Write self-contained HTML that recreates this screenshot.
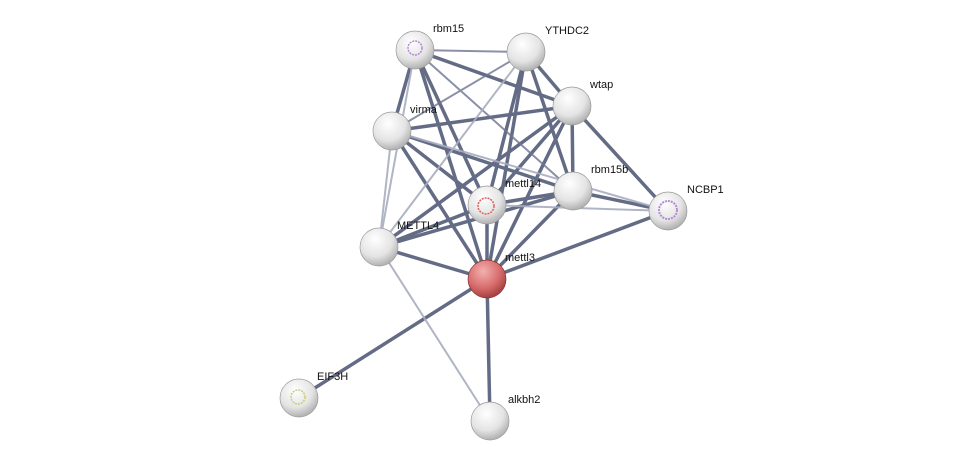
<!DOCTYPE html>
<html><head><style>body{margin:0;background:#fff}svg text{font-family:"Liberation Sans",sans-serif;font-size:11px;fill:#111}</style></head>
<body>
<svg width="975" height="467" viewBox="0 0 975 467">
<defs>
<radialGradient id="g" cx="0.4" cy="0.3" r="0.75"><stop offset="0" stop-color="#ffffff"/><stop offset="0.6" stop-color="#e4e4e4"/><stop offset="1" stop-color="#a8a8a8"/></radialGradient>
<radialGradient id="r" cx="0.4" cy="0.3" r="0.75"><stop offset="0" stop-color="#f4b0b0"/><stop offset="0.6" stop-color="#d66a6a"/><stop offset="1" stop-color="#9a3838"/></radialGradient>
</defs>
<g stroke-linecap="round">
<g stroke="#545c78" stroke-width="3.5" opacity="0.9">
<line x1="487" y1="279" x2="415" y2="50"/><line x1="487" y1="279" x2="526" y2="52"/><line x1="487" y1="279" x2="572" y2="106"/>
<line x1="487" y1="279" x2="392" y2="131"/><line x1="487" y1="279" x2="573" y2="191"/><line x1="487" y1="279" x2="668" y2="211"/>
<line x1="487" y1="279" x2="487" y2="205"/><line x1="487" y1="279" x2="379" y2="247"/><line x1="487" y1="279" x2="299" y2="398"/>
<line x1="487" y1="279" x2="490" y2="421"/>
<line x1="487" y1="205" x2="415" y2="50"/><line x1="487" y1="205" x2="526" y2="52"/><line x1="487" y1="205" x2="572" y2="106"/>
<line x1="487" y1="205" x2="392" y2="131"/><line x1="487" y1="205" x2="573" y2="191"/><line x1="487" y1="205" x2="379" y2="247"/>
<line x1="415" y1="50" x2="572" y2="106"/><line x1="415" y1="50" x2="392" y2="131"/><line x1="526" y1="52" x2="572" y2="106"/>
<line x1="526" y1="52" x2="573" y2="191"/><line x1="572" y1="106" x2="392" y2="131"/><line x1="572" y1="106" x2="573" y2="191"/>
<line x1="572" y1="106" x2="668" y2="211"/><line x1="572" y1="106" x2="379" y2="247"/><line x1="573" y1="191" x2="668" y2="211"/>
<line x1="392" y1="131" x2="573" y2="191"/><line x1="573" y1="191" x2="379" y2="247"/>
</g>
<g stroke="#6d7592" stroke-width="2" opacity="0.8">
<line x1="415" y1="50" x2="526" y2="52"/><line x1="526" y1="52" x2="392" y2="131"/><line x1="415" y1="50" x2="573" y2="191"/>
</g>
<g stroke="#a8adc0" stroke-width="2" opacity="0.9">
<line x1="415" y1="50" x2="379" y2="247"/><line x1="526" y1="52" x2="379" y2="247"/><line x1="392" y1="131" x2="379" y2="247"/>
<line x1="487" y1="205" x2="668" y2="211"/><line x1="379" y1="247" x2="490" y2="421"/><line x1="392" y1="131" x2="668" y2="211"/>
</g>
</g>
<g>
<circle cx="415" cy="50" r="19" fill="url(#g)" stroke="#999" stroke-width="0.7"/>
<circle cx="526" cy="52" r="19" fill="url(#g)" stroke="#999" stroke-width="0.7"/>
<circle cx="572" cy="106" r="19" fill="url(#g)" stroke="#999" stroke-width="0.7"/>
<circle cx="392" cy="131" r="19" fill="url(#g)" stroke="#999" stroke-width="0.7"/>
<circle cx="573" cy="191" r="19" fill="url(#g)" stroke="#999" stroke-width="0.7"/>
<circle cx="668" cy="211" r="19" fill="url(#g)" stroke="#999" stroke-width="0.7"/>
<circle cx="487" cy="205" r="19" fill="url(#g)" stroke="#999" stroke-width="0.7"/>
<circle cx="379" cy="247" r="19" fill="url(#g)" stroke="#999" stroke-width="0.7"/>
<circle cx="487" cy="279" r="19" fill="url(#r)" stroke="#8a3030" stroke-width="0.7"/>
<circle cx="299" cy="398" r="19" fill="url(#g)" stroke="#999" stroke-width="0.7"/>
<circle cx="490" cy="421" r="19" fill="url(#g)" stroke="#999" stroke-width="0.7"/>
<circle cx="415" cy="48" r="7" fill="none" stroke="#b48ad8" stroke-width="1.5" stroke-dasharray="2 1"/>
<circle cx="668" cy="210" r="9" fill="none" stroke="#b48ad8" stroke-width="2" stroke-dasharray="2 1"/>
<circle cx="486" cy="206" r="8" fill="none" stroke="#e06060" stroke-width="1.5" stroke-dasharray="2 1"/>
<circle cx="298" cy="397" r="7" fill="none" stroke="#c8d070" stroke-width="1.5" stroke-dasharray="2 1"/>
</g>
<text x="433" y="32">rbm15</text>
<text x="545" y="34">YTHDC2</text>
<text x="590" y="88">wtap</text>
<text x="410" y="113">virma</text>
<text x="591" y="173">rbm15b</text>
<text x="687" y="193">NCBP1</text>
<text x="505" y="187">mettl14</text>
<text x="397" y="229">METTL4</text>
<text x="505" y="261">mettl3</text>
<text x="317" y="380">EIF3H</text>
<text x="508" y="403">alkbh2</text>
</svg>
</body></html>
